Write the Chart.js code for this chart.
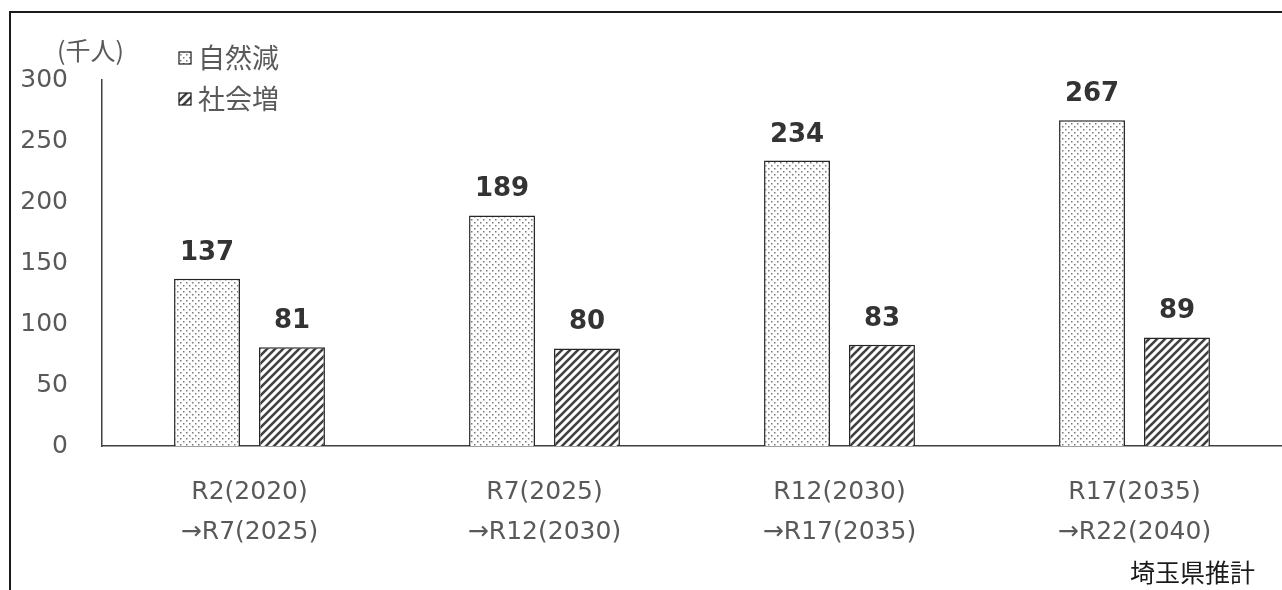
<!DOCTYPE html>
<html>
<head>
<meta charset="utf-8">
<script src="https://cdn.jsdelivr.net/npm/chart.js@4"></script>
<style>
  html, body { margin: 0; padding: 0; background: #fff; }
  #wrap { position: relative; width: 1282px; height: 590px; }
</style>
</head>
<body>
<div id="wrap"><canvas id="chart" width="1282" height="590"></canvas></div>
<script>
// categories (two line labels)
const periods = [
    ['R2(2020)', '→R7(2025)'],
    ['R7(2025)', '→R12(2030)'],
    ['R12(2030)', '→R17(2035)'],
    ['R17(2035)', '→R22(2040)']
];
const seriesNames = ['自然減', '社会増'];
const naturalDecrease = [137, 189, 234, 267];
const socialIncrease = [81, 80, 83, 89];
const unitLabel = '(千人)';
const sourceLabel = '埼玉県推計';

const grayText = '#595959';
const jpFont = '"Noto Sans CJK JP", "Noto Sans", sans-serif';
const latinFont = '"DejaVu Sans", "Noto Sans CJK JP", sans-serif';

// dotted fill
function dotPattern() {
    const c = document.createElement('canvas');
    c.width = 6; c.height = 6;
    const g = c.getContext('2d');
    g.fillStyle = '#fff';
    g.fillRect(0, 0, 6, 6);
    g.fillStyle = '#7a7a7a';
    g.fillRect(0, 0, 1.5, 1.5);
    g.fillRect(3, 3, 1.5, 1.5);
    return g.createPattern(c, 'repeat');
}

// diagonal hatch fill
function hatchPattern() {
    const s = 8;
    const c = document.createElement('canvas');
    c.width = s; c.height = s;
    const g = c.getContext('2d');
    g.fillStyle = '#fff';
    g.fillRect(0, 0, s, s);
    g.strokeStyle = '#404040';
    g.lineWidth = 2.6;
    g.beginPath();
    g.moveTo(-2, s + 2); g.lineTo(s + 2, -2);
    g.moveTo(-2, 2); g.lineTo(2, -2);
    g.moveTo(s - 2, s + 2); g.lineTo(s + 2, s - 2);
    g.stroke();
    return g.createPattern(c, 'repeat');
}

const fills = [dotPattern(), hatchPattern()];

// frame, unit text, legend, source note, value labels
const extras = {
    id: 'extras',
    beforeDraw(chart) {
        const ctx = chart.ctx;
        ctx.save();
        ctx.strokeStyle = '#1a1a1a';
        ctx.lineWidth = 2;
        ctx.beginPath();
        ctx.moveTo(10, 590);
        ctx.lineTo(10, 12);
        ctx.lineTo(1282, 12);
        ctx.stroke();
        ctx.restore();
    },
    afterDatasetsDraw(chart) {
        const ctx = chart.ctx;
        ctx.save();
        // value labels
        ctx.font = 'bold 26px "DejaVu Sans", sans-serif';
        ctx.fillStyle = '#333333';
        ctx.textAlign = 'center';
        ctx.textBaseline = 'alphabetic';
        chart.data.datasets.forEach((ds, di) => {
            chart.getDatasetMeta(di).data.forEach((bar, i) => {
                ctx.fillText(ds.data[i], bar.x, bar.y - 19);
            });
        });
        // unit
        ctx.font = '25px ' + jpFont;
        ctx.fillStyle = grayText;
        ctx.textAlign = 'left';
        ctx.textBaseline = 'middle';
        ctx.fillText(unitLabel, 57, 50);
        // legend
        chart.data.datasets.forEach((ds, di) => {
            const y = 58 + di * 41;
            ctx.fillStyle = ds.backgroundColor;
            ctx.fillRect(179, y - 6, 12, 12);
            ctx.strokeStyle = '#1a1a1a';
            ctx.lineWidth = 1.2;
            ctx.strokeRect(179, y - 6, 12, 12);
            ctx.fillStyle = grayText;
            ctx.font = '27px ' + jpFont;
            ctx.fillText(ds.label, 198, y);
        });
        // source
        ctx.fillStyle = '#1a1a1a';
        ctx.font = '25px ' + jpFont;
        ctx.textAlign = 'right';
        ctx.fillText(sourceLabel, 1255, 572);
        ctx.restore();
    }
};

new Chart(document.getElementById('chart'), {
    type: 'bar',
    data: {
        labels: periods,
        datasets: [
            {
                label: seriesNames[0],
                data: naturalDecrease,
                backgroundColor: fills[0],
                borderColor: '#262626',
                borderWidth: 1.5,
                borderSkipped: 'bottom'
            },
            {
                label: seriesNames[1],
                data: socialIncrease,
                backgroundColor: fills[1],
                borderColor: '#262626',
                borderWidth: 1.5,
                borderSkipped: 'bottom'
            }
        ]
    },
    options: {
        responsive: false,
        animation: false,
        events: [],
        layout: { padding: { left: 0, right: 0, top: 80, bottom: 0 } },
        datasets: {
            bar: { categoryPercentage: 0.576, barPercentage: 0.776 }
        },
        plugins: {
            legend: { display: false },
            tooltip: { enabled: false }
        },
        scales: {
            x: {
                grid: { display: false, drawTicks: false },
                border: { display: true, color: '#404040', width: 1.5 },
                ticks: {
                    color: grayText,
                    font: { family: latinFont, size: 25, lineHeight: 1.62 },
                    padding: 26,
                    maxRotation: 0
                },
                afterFit(scale) { scale.height = 144; }
            },
            y: {
                min: 0,
                max: 300,
                grid: { display: false, drawTicks: false },
                border: { display: true, color: '#404040', width: 1.5 },
                ticks: {
                    stepSize: 50,
                    color: grayText,
                    font: { family: latinFont, size: 25 },
                    padding: 34
                },
                afterFit(scale) { scale.width = 102; }
            }
        }
    },
    plugins: [extras]
});
</script>
</body>
</html>
